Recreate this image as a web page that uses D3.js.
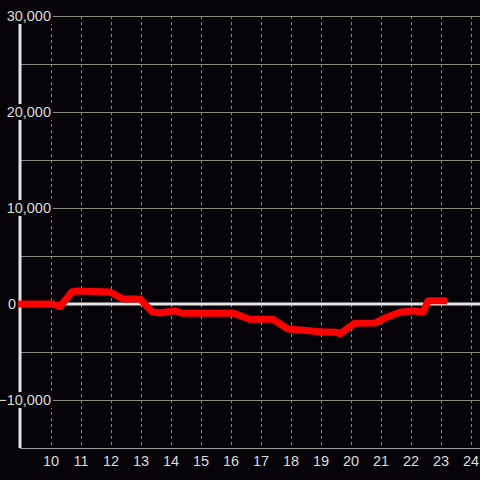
<!DOCTYPE html>
<html>
<head>
<meta charset="utf-8">
<script src="https://cdn.jsdelivr.net/npm/d3@7"></script>
<style>
  html, body { margin: 0; padding: 0; background: #050307; }
  svg { display: block; }
</style>
</head>
<body>
<script>
// hour of day and value
var hours  = [8.9, 10.07, 10.3, 10.7, 10.9, 11.97, 12.4, 12.97, 13.37, 13.63, 14.13, 14.37,
              16.07, 16.63, 17.4, 17.9, 18.3, 18.97, 19.53, 19.63, 20.13, 20.8, 21.23,
              21.63, 22.07, 22.4, 22.57, 23.2];
var values = [0, 0, -280, 1280, 1350, 1250, 520, 520, -800, -940, -700, -970,
              -940, -1600, -1600, -2600, -2700, -2900, -2950, -3120, -2000, -1980, -1320,
              -860, -700, -860, 340, 340];
var xTicks = [10, 11, 12, 13, 14, 15, 16, 17, 18, 19, 20, 21, 22, 23, 24];
var yMajor = [30000, 20000, 10000, 0, -10000];
var yMinor = [25000, 15000, 5000, -5000];

var data = hours.map(function(h, i) { return {t: h, v: values[i]}; });

var width = 480, height = 480;
var svg = d3.select("body").append("svg").attr("width", width).attr("height", height);

var x = d3.scaleLinear().domain([8.9667, 24.3]).range([20, 480]);
var y = d3.scaleLinear().domain([-15000, 30000]).range([448, 16]);

var fmt = d3.format(",");

// vertical dashed grid
svg.append("g").selectAll("line")
    .data(xTicks)
    .enter().append("line")
    .attr("x1", function(d) { return Math.round(x(d)) + 0.5; })
    .attr("x2", function(d) { return Math.round(x(d)) + 0.5; })
    .attr("y1", y(30000))
    .attr("y2", y(-15000))
    .attr("stroke", "#8c8c88")
    .attr("stroke-width", 1)
    .attr("stroke-dasharray", "3,3");

// horizontal grid
svg.append("g").selectAll("line")
    .data(yMajor.concat(yMinor).filter(function(d) { return d !== 0; }))
    .enter().append("line")
    .attr("x1", 20)
    .attr("x2", width)
    .attr("y1", function(d) { return Math.round(y(d)) + 0.5; })
    .attr("y2", function(d) { return Math.round(y(d)) + 0.5; })
    .attr("stroke", "#8c8c88")
    .attr("stroke-width", 1);

// bottom axis line
svg.append("line")
    .attr("x1", 20).attr("x2", width)
    .attr("y1", y(-15000) + 0.5).attr("y2", y(-15000) + 0.5)
    .attr("stroke", "#9a9a96");

// zero line
svg.append("line")
    .attr("x1", 20).attr("x2", width)
    .attr("y1", y(0)).attr("y2", y(0))
    .attr("stroke", "#e4e4e4")
    .attr("stroke-width", 3);

// y axis line
svg.append("line")
    .attr("x1", 20).attr("x2", 20)
    .attr("y1", y(30000)).attr("y2", y(-15000))
    .attr("stroke", "#e4e4e4")
    .attr("stroke-width", 3);

// y labels with dark boxes behind them (the zero label sits left of the axis)
var yl = svg.append("g").selectAll("g")
    .data(yMajor)
    .enter().append("g")
    .attr("transform", function(d) { return "translate(" + (d === 0 ? 16 : 51) + "," + y(d) + ")"; });

yl.filter(function(d) { return d !== 0; })
    .append("rect")
    .attr("x", -50).attr("y", -8)
    .attr("width", 52).attr("height", 16)
    .attr("fill", "#050307");

yl.append("text")
    .attr("text-anchor", "end")
    .attr("dy", "0.36em")
    .attr("fill", "#dcdcdc")
    .style("font-family", "Liberation Sans, Arial, sans-serif")
    .style("font-size", "14.5px")
    .text(function(d) { return fmt(d); });

// x labels
svg.append("g").selectAll("text")
    .data(xTicks)
    .enter().append("text")
    .attr("x", function(d) { return x(d); })
    .attr("y", 466)
    .attr("text-anchor", "middle")
    .attr("fill", "#dcdcdc")
    .style("font-family", "Liberation Sans, Arial, sans-serif")
    .style("font-size", "14.5px")
    .text(function(d) { return d; });

// the series, drawn on top of everything
var line = d3.line()
    .x(function(d) { return x(d.t); })
    .y(function(d) { return y(d.v); });

svg.append("path")
    .datum(data)
    .attr("d", line)
    .attr("fill", "none")
    .attr("stroke", "#ff0000")
    .attr("stroke-width", 7)
    .attr("stroke-linejoin", "round");
</script>
</body>
</html>
